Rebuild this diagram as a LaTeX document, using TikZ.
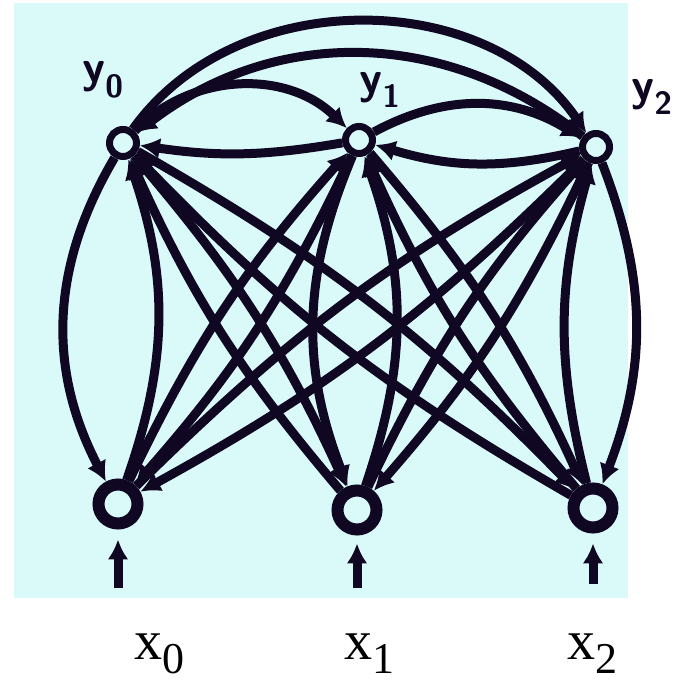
\documentclass[tikz,border=0pt]{standalone}
\usepackage{fontspec}
\newfontfamily\labelfont{Liberation Serif}
\usetikzlibrary{arrows.meta}
\definecolor{scan}{RGB}{218,250,250}
\definecolor{ink}{RGB}{16,8,34}

\begin{document}
\begin{tikzpicture}[x=1pt,y=1pt,line width=9pt,>={Latex[length=20pt,width=21pt]},
  unit/.style={circle,draw=ink,fill=scan,inner sep=0pt},
  hid/.style={unit,line width=7pt,minimum size=27pt},
  inp/.style={unit,line width=12pt,minimum size=39pt},
  tag/.style={font=\sffamily\bfseries\fontsize{46}{46}\selectfont,text=ink,inner sep=0pt},
  xlabel/.style={anchor=base west,inner sep=0pt,font=\labelfont\fontsize{56}{56}\selectfont},
  link/.style={->,draw=ink}]
  \useasboundingbox (0,0) rectangle (679,684);
  \fill[scan] (14,86) rectangle (628,681);
  % --- y (oben) ---
  \node[hid] (y0) at (123,541) {};
  \node[hid] (y1) at (359,544) {};
  \node[hid] (y2) at (596,537) {};
  \node[tag] (ty0) at (103,604) {y\textsubscript{0}};
  \node[tag] (ty1) at (380,594) {y\textsubscript{1}};
  \node[tag] (ty2) at (652,587) {y\textsubscript{2}};
  % --- x (unten) ---
  \node[inp] (x0) at (118,180) {};
  \node[inp] (x1) at (357,174) {};
  \node[inp] (x2) at (593,176) {};
  \coordinate (in0) at (118,96);
  \coordinate (in1) at (357,96);
  \coordinate (in2) at (593,100);
  \draw[link,shorten >=10pt] (in0) -- (x0);
  \draw[link,shorten >=8pt] (in1) -- (x1);
  \draw[link,shorten >=10pt] (in2) -- (x2);
  \node[xlabel] (lx0) at (130,24) {x\raisebox{-14pt}{\fontsize{44}{44}\selectfont 0}};
  \node[xlabel] (lx1) at (340,24) {x\raisebox{-14pt}{\fontsize{44}{44}\selectfont 1}};
  \node[xlabel] (lx2) at (563,24) {x\raisebox{-14pt}{\fontsize{44}{44}\selectfont 2}};
  % y <-> y
  \draw[link] (y0) to[bend left=55] (y2);
  \draw[link] (y2) to[bend right=38] (y0);
  \draw[link] (y0) to[bend left=45] (y1);
  \draw[link] (y1) to[bend left=9] (y0);
  \draw[link] (y1) to[bend left=30] (y2);
  \draw[link] (y2) to[bend left=15] (y1);
  % y0 <-> x
  \draw[link] (y0) to[bend right=29] (x0);
  \draw[link] (x0) to[bend right=19] (y0);
  \draw[link] (y0) to[bend left=8] (x1);
  \draw[link] (x1) to[bend left=8] (y0);
  \draw[link] (y0) to[bend left=8] (x2);
  \draw[link] (x2) to[bend left=8] (y0);
  % y1 <-> x
  \draw[link] (y1) to[bend left=8] (x0);
  \draw[link] (x0) to[bend left=8] (y1);
  \draw[link] (y1) to[bend right=22] (x1);
  \draw[link] (x1) to[bend right=19] (y1);
  \draw[link] (y1) to[bend left=8] (x2);
  \draw[link] (x2) to[bend left=8] (y1);
  % y2 <-> x
  \draw[link] (y2) to[bend left=8] (x0);
  \draw[link] (x0) to[bend left=8] (y2);
  \draw[link] (y2) to[bend left=8] (x1);
  \draw[link] (x1) to[bend left=8] (y2);
  \draw[link] (y2) to[bend left=21] (x2);
  \draw[link] (x2) to[bend left=15] (y2);
\end{tikzpicture}
\end{document}
